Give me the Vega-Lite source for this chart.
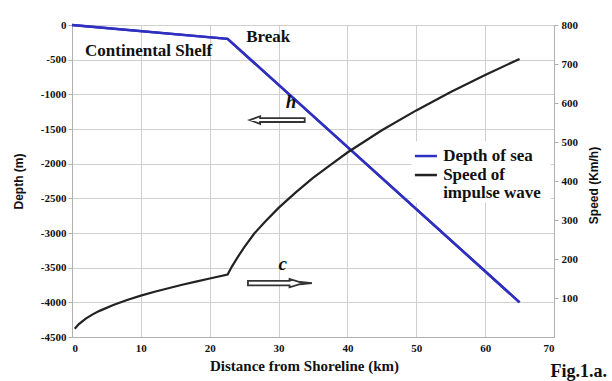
{
  "$schema": "https://vega.github.io/schema/vega-lite/v6.json",
  "width": 482,
  "height": 312,
  "autosize": {"type": "none"},
  "padding": {"left": 72, "top": 25, "right": 58, "bottom": 44},
  "background": "white",
  "title": {"text": "Fig.1.a.", "orient": "bottom", "anchor": "end", "frame": "group", "font": "Liberation Serif", "fontWeight": "bold", "fontSize": 18, "color": "#111", "dx": 53, "dy": -10, "offset": 0},
  "config": {
    "view": {"stroke": null},
    "axis": {"labelFont": "Liberation Serif", "labelFontWeight": "bold", "labelFontSize": 11, "labelColor": "#111", "gridColor": "#cfcfcf", "domainColor": "#b0b0b0", "tickColor": "#b0b0b0", "titleColor": "#111", "labelOverlap": false}
  },
  "datasets": {
    "depth": [
      {"dist": 0, "depth": 0, "series": "Depth of sea"},
      {"dist": 22.6, "depth": -200, "series": "Depth of sea"},
      {"dist": 65, "depth": -4000, "series": "Depth of sea"}
    ],
    "speed": [
      {"dist": 0.4, "speed": 21},
      {"dist": 1, "speed": 33},
      {"dist": 2, "speed": 47},
      {"dist": 3, "speed": 58},
      {"dist": 4, "speed": 67},
      {"dist": 6, "speed": 82},
      {"dist": 8, "speed": 95},
      {"dist": 10, "speed": 106},
      {"dist": 12, "speed": 116},
      {"dist": 14, "speed": 125},
      {"dist": 16, "speed": 134},
      {"dist": 18, "speed": 142},
      {"dist": 20, "speed": 150},
      {"dist": 22.6, "speed": 160},
      {"dist": 23.2, "speed": 180},
      {"dist": 24, "speed": 203},
      {"dist": 25, "speed": 230},
      {"dist": 26.5, "speed": 266},
      {"dist": 28, "speed": 295},
      {"dist": 30, "speed": 331},
      {"dist": 32.5, "speed": 371},
      {"dist": 35, "speed": 408},
      {"dist": 37.5, "speed": 441},
      {"dist": 40, "speed": 473},
      {"dist": 45, "speed": 530},
      {"dist": 50, "speed": 581},
      {"dist": 55, "speed": 628},
      {"dist": 60, "speed": 672},
      {"dist": 65, "speed": 713}
    ],
    "labels": [
      {"dist": 1.9, "depth": -440, "text": "Continental Shelf"},
      {"dist": 25.3, "depth": -245, "text": "Break"}
    ],
    "letters": [
      {"dist": 31.8, "depth": -1110, "text": "h"},
      {"dist": 30.6, "depth": -3450, "text": "c"}
    ],
    "legendbox": [
      {"x1": 49.3, "x2": 69.5, "y1": -1680, "y2": -2560}
    ],
    "legendlines": [
      {"x1": 49.8, "x2": 53.0, "depth": -1890, "series": "Depth of sea"},
      {"x1": 49.8, "x2": 53.0, "depth": -2164, "series": "Speed of impulse wave"}
    ],
    "legendtext": [
      {"dist": 53.9, "depth": -1890, "text": "Depth of sea"},
      {"dist": 53.9, "depth": -2164, "text": "Speed of"},
      {"dist": 53.9, "depth": -2430, "text": "impulse wave"}
    ]
  },
  "layer": [
    {
      "layer": [
        {
          "data": {"name": "depth"},
          "mark": {"type": "line", "color": "#2f2fc0", "strokeWidth": 2.5},
          "encoding": {
            "x": {"field": "dist", "type": "quantitative", "scale": {"domain": [0, 70], "nice": false},
                  "axis": {"values": [0, 10, 20, 30, 40, 50, 60, 70], "tickCount": 20, "ticks": false, "labelPadding": 5, "grid": true,
                           "title": "Distance from Shoreline (km)", "titleFont": "Liberation Serif", "titleFontWeight": "bold", "titleFontSize": 15,
                           "titleX": 232, "titleY": 21, "titleBaseline": "top"}},
            "y": {"field": "depth", "type": "quantitative", "scale": {"domain": [-4500, 0], "nice": false},
                  "axis": {"values": [-4500, -4000, -3500, -3000, -2500, -2000, -1500, -1000, -500, 0], "tickCount": 20, "tickSize": 4, "labelPadding": 2, "grid": true,
                           "labelOverlap": false, "labelBound": false, "labelFlush": false,
                           "labelExpr": "toString(datum.value)",
                           "title": "Depth (m)", "titleFont": "Liberation Sans", "titleFontWeight": "bold", "titleFontSize": 12,
                           "titleX": -54, "titleY": 156, "titleAngle": 270, "titleBaseline": "middle", "titleAlign": "center"}}
          }
        },
        {
          "data": {"name": "legendbox"},
          "mark": {"type": "rect", "fill": "white"},
          "encoding": {
            "x": {"field": "x1", "type": "quantitative"},
            "x2": {"field": "x2"},
            "y": {"field": "y1", "type": "quantitative"},
            "y2": {"field": "y2"}
          }
        },
        {
          "data": {"name": "depth"},
          "mark": {"type": "line", "color": "#2f2fc0", "strokeWidth": 2.5},
          "encoding": {
            "x": {"field": "dist", "type": "quantitative"},
            "y": {"field": "depth", "type": "quantitative"}
          }
        },
        {
          "data": {"name": "legendlines"},
          "mark": {"type": "rule", "strokeWidth": 2.5},
          "encoding": {
            "x": {"field": "x1", "type": "quantitative"},
            "x2": {"field": "x2"},
            "y": {"field": "depth", "type": "quantitative"},
            "color": {"field": "series", "type": "nominal", "scale": {"domain": ["Depth of sea", "Speed of impulse wave"], "range": ["#2f2fc0", "#222222"]}, "legend": null}
          }
        },
        {
          "data": {"name": "legendtext"},
          "mark": {"type": "text", "align": "left", "baseline": "middle", "font": "Liberation Serif", "fontWeight": "bold", "fontSize": 17, "color": "#111"},
          "encoding": {
            "x": {"field": "dist", "type": "quantitative"},
            "y": {"field": "depth", "type": "quantitative"},
            "text": {"field": "text"}
          }
        },
        {
          "data": {"name": "labels"},
          "mark": {"type": "text", "align": "left", "baseline": "alphabetic", "font": "Liberation Serif", "fontWeight": "bold", "fontSize": 17, "color": "#111"},
          "encoding": {
            "x": {"field": "dist", "type": "quantitative"},
            "y": {"field": "depth", "type": "quantitative"},
            "text": {"field": "text"}
          }
        },
        {
          "data": {"name": "letters"},
          "mark": {"type": "text", "align": "center", "baseline": "middle", "font": "Liberation Serif", "fontWeight": "bold", "fontStyle": "italic", "fontSize": 19, "color": "#111"},
          "encoding": {
            "x": {"field": "dist", "type": "quantitative"},
            "y": {"field": "depth", "type": "quantitative"},
            "text": {"field": "text"}
          }
        },
        {
          "data": {"values": [{"dist": 29.8, "depth": -1371}]},
          "mark": {"type": "point", "filled": true, "fill": "white", "stroke": "#333", "strokeWidth": 1.8, "opacity": 1, "size": 3025,
                   "shape": "M -1 0 L -0.62 -0.14 L -0.62 -0.07 L 1 -0.07 L 1 0.07 L -0.62 0.07 L -0.62 0.14 Z"},
          "encoding": {
            "x": {"field": "dist", "type": "quantitative"},
            "y": {"field": "depth", "type": "quantitative"}
          }
        },
        {
          "data": {"values": [{"dist": 30.2, "depth": -3723}]},
          "mark": {"type": "point", "filled": true, "fill": "white", "stroke": "#333", "strokeWidth": 1.8, "opacity": 1, "size": 4096,
                   "shape": "M -1 -0.07 L 0.3 -0.07 L 0.3 -0.13 L 0.62 -0.035 L 1 0 L 0.62 0.035 L 0.3 0.13 L 0.3 0.07 L -1 0.07 Z"},
          "encoding": {
            "x": {"field": "dist", "type": "quantitative"},
            "y": {"field": "depth", "type": "quantitative"}
          }
        }
      ]
    },
    {
      "data": {"name": "speed"},
      "mark": {"type": "line", "color": "#222222", "strokeWidth": 2.2},
      "encoding": {
        "x": {"field": "dist", "type": "quantitative"},
        "y": {"field": "speed", "type": "quantitative", "scale": {"domain": [0, 800], "nice": false},
              "axis": {"orient": "right", "values": [100, 200, 300, 400, 500, 600, 700, 800], "tickCount": 20, "grid": false, "tickSize": 4, "labelPadding": 3,
                       "title": "Speed (Km/h)", "titleFont": "Liberation Sans", "titleFontWeight": "bold", "titleFontSize": 12,
                       "titleAngle": 270, "titleX": 39, "titleY": 160, "titleAlign": "center", "titleBaseline": "middle"}}
      }
    }
  ],
  "resolve": {"scale": {"y": "independent"}}
}
